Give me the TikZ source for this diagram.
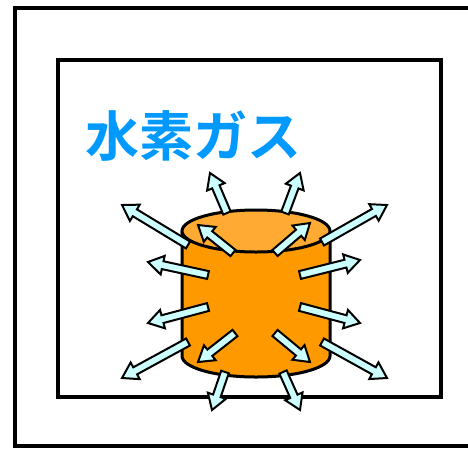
\documentclass[tikz,border=0pt]{standalone}
\usepackage{fontspec}
\newfontfamily\jpfont{Noto Sans CJK JP}[BoldFont={Noto Sans CJK JP Bold}]
\usetikzlibrary{calc}
\definecolor{gasblue}{HTML}{0099FF}
\definecolor{tankside}{HTML}{FF9900}
\definecolor{tanktop}{HTML}{FFAA33}
\definecolor{flowcyan}{HTML}{CCFFFF}
\tikzset{
  frame/.style={draw=black,line width=3.2pt},
  tank/.style={draw=black,line width=3pt,line join=round},
  gasflow/.style={draw=black,line width=2pt,fill=flowcyan,line join=miter}
}
\begin{document}
\begin{tikzpicture}[x=1pt,y=-1pt]
  \useasboundingbox (0,0) rectangle (468,448);
  % outer and inner boxes
  \draw[frame] (15,8) rectangle (480,446);
  \draw[frame] (58,60) rectangle (441,397);
  \node[anchor=west,inner sep=0pt,text=gasblue,font=\jpfont\bfseries\fontsize{54}{60}\selectfont] (gas) at (85,136) {水素ガス};
  % the cylinder
  \draw[tank,fill=tankside] (182,231) -- (182,356)
    arc[start angle=180,end angle=0,x radius=74,y radius=21] -- (330,231) -- cycle;
  \draw[tank,fill=tanktop] (256,231) ellipse [x radius=74,y radius=21];
  % gas leaving in all directions
  \foreach \tx/\ty/\hx/\hy in {227/213/210/173, 285/213/300/173,
      188/245/122/205, 322/242/387/205, 233/253/198/225, 275/253/310/223,
      208/275/148/262, 300/275/360/260, 208/307/148/323, 300/307/360/323,
      235/333/198/362, 275/333/310/362, 188/342/122/378, 322/342/387/378,
      225/372/212/410, 283/372/300/410}
    \draw[gasflow] let \p1=($(\hx,\hy)-(\tx,\ty)$), \n1={atan2(\y1,\x1)},
        \n2={veclen(\x1,\y1)}, \n3={\n2-15} in
      [shift={(\tx,\ty)},rotate=\n1]
      (0pt,-4pt) -- (\n3,-4pt) -- (\n3,-9.5pt) -- (\n2,0pt)
      -- (\n3,9.5pt) -- (\n3,4pt) -- (0pt,4pt) -- cycle;
\end{tikzpicture}
\end{document}
